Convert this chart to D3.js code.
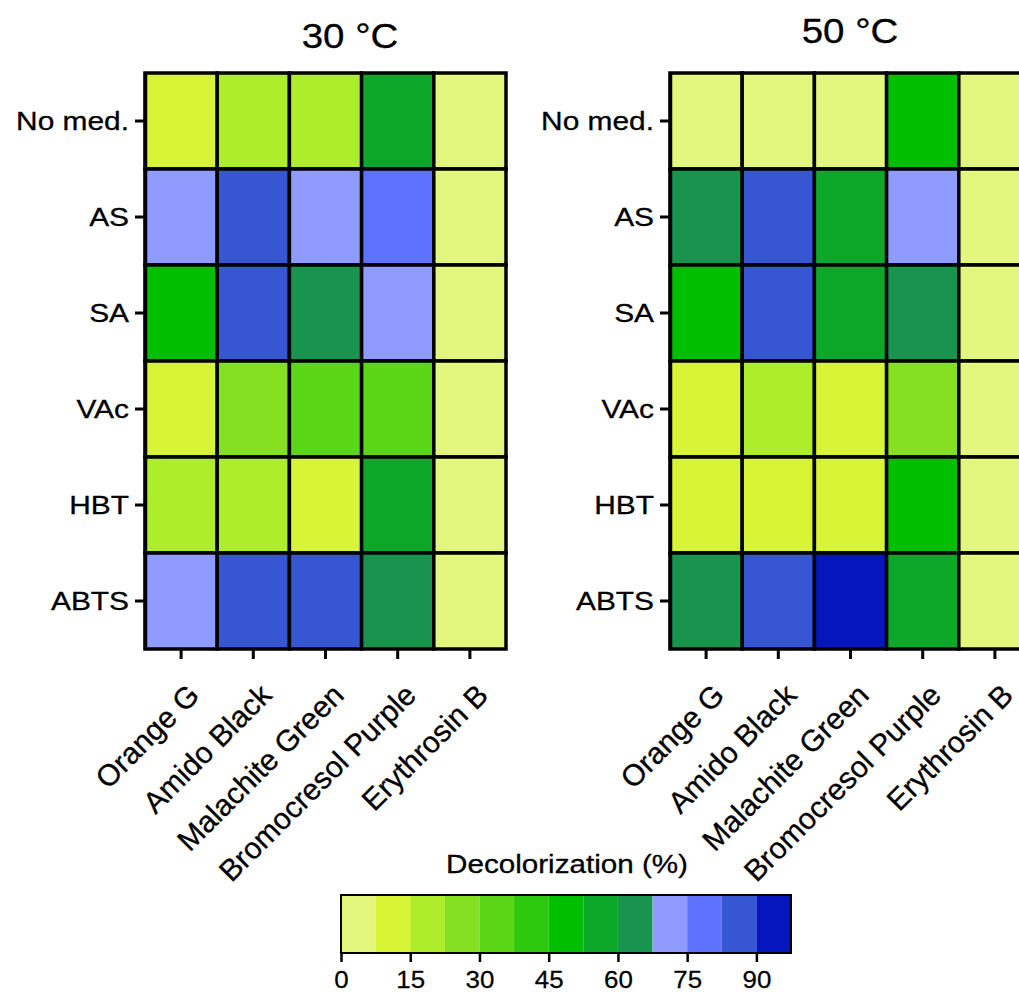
<!DOCTYPE html>
<html>
<head>
<meta charset="utf-8">
<script src="https://cdn.jsdelivr.net/npm/d3@7"></script>
<style>
  body { margin: 0; background: #fff; }
  text { font-family: "Liberation Sans", Arial, sans-serif; fill: #000; }
</style>
</head>
<body>
<div class="displayArea"></div>
<script>
const width = 1019, height = 993;

// dyes on x, mediators on y
var dyes = ["Orange G", "Amido Black", "Malachite Green", "Bromocresol Purple", "Erythrosin B"];
var mediators = ["No med.", "AS", "SA", "VAc", "HBT", "ABTS"];

// decolorization (%), one row per mediator
var decol30 = [
    [11, 19, 20, 56, 4],
    [71, 86, 72, 79, 3],
    [49, 87, 64, 72, 4],
    [10, 27, 34, 35, 3],
    [18, 19, 11, 57, 4],
    [72, 86, 87, 63, 3]
];
var decol50 = [
    [4, 3, 4, 50, 3],
    [64, 86, 57, 71, 3],
    [49, 87, 56, 63, 4],
    [11, 19, 12, 27, 3],
    [10, 12, 11, 49, 4],
    [63, 86, 94, 57, 3]
];

var panelTitles = ["30 °C", "50 °C"];

// colour bins of the legend
var binEdges = [7.5, 15, 22.5, 30, 37.5, 45, 52.5, 60, 67.5, 75, 82.5, 90];
var binColors = ["#e3f77f", "#d7f534", "#aded2a", "#84e020", "#5ad616", "#2cc80e", "#00bf00",
                 "#0ba82a", "#19944f", "#8f9bff", "#5f72ff", "#3656d4", "#0516be"];
var legendMax = 97.5;
var legendTicks = [0, 15, 30, 45, 60, 75, 90];

var color = d3.scaleThreshold().domain(binEdges).range(binColors);

var svg = d3.select(".displayArea")
    .append("svg")
    .attr("width", width)
    .attr("height", height);

var yScale = d3.scaleBand().domain(mediators).range([73, 649]);

function drawPanel(values, x0, title, titleX, titleY) {
    var xScale = d3.scaleBand().domain(dyes).range([x0, x0 + 361]);

    var cells = [];
    values.forEach(function (row, i) {
        row.forEach(function (v, j) {
            cells.push({ med: mediators[i], dye: dyes[j], v: v });
        });
    });

    svg.append("g").selectAll("rect")
        .data(cells)
        .enter()
        .append("rect")
        .attr("x", d => xScale(d.dye))
        .attr("y", d => yScale(d.med))
        .attr("width", xScale.bandwidth())
        .attr("height", yScale.bandwidth())
        .attr("fill", d => color(d.v))
        .attr("stroke", "#000")
        .attr("stroke-width", 3.5);

    // y axis
    var yAxis = svg.append("g")
        .attr("transform", `translate(${x0},0)`)
        .call(d3.axisLeft(yScale).tickSize(10).tickSizeOuter(0).tickPadding(6));
    yAxis.select(".domain").attr("stroke-width", 3.5).attr("stroke", "#000");
    yAxis.selectAll(".tick line").attr("stroke-width", 3).attr("stroke", "#000");
    yAxis.selectAll(".tick text")
        .attr("font-size", 26)
        .attr("font-family", "Liberation Sans, Arial, sans-serif")
        .attr("fill", "#000")
        .attr("stroke", "#000").attr("stroke-width", 0.3)
        .attr("x", null).attr("dy", null)
        .attr("dominant-baseline", "central")
        .attr("transform", "translate(-16,0) scale(1.15,1)");

    // x axis
    var xAxis = svg.append("g")
        .attr("transform", `translate(0,649)`)
        .call(d3.axisBottom(xScale).tickSize(10).tickSizeOuter(0));
    xAxis.select(".domain").remove();
    xAxis.selectAll(".tick line").attr("stroke-width", 3).attr("stroke", "#000");
    xAxis.selectAll(".tick text")
        .attr("font-size", 30)
        .attr("font-family", "Liberation Sans, Arial, sans-serif")
        .attr("fill", "#000")
        .attr("stroke", "#000").attr("stroke-width", 0.3)
        .attr("y", null).attr("dy", null)
        .attr("text-anchor", "end")
        .attr("transform", "translate(20,48) rotate(-45)");

    svg.append("text")
        .attr("text-anchor", "middle")
        .attr("font-size", 35)
        .attr("stroke", "#000").attr("stroke-width", 0.3)
        .attr("transform", `translate(${titleX},${titleY}) scale(1.1,1)`)
        .text(title);
}

drawPanel(decol30, 145, panelTitles[0], 350, 48);
drawPanel(decol50, 670, panelTitles[1], 850, 43);

// legend
var lx = d3.scaleLinear().domain([0, legendMax]).range([341, 791]);
var lg = svg.append("g");
var bins = [0].concat(binEdges);
lg.selectAll("rect.bin")
    .data(bins)
    .enter()
    .append("rect")
    .attr("class", "bin")
    .attr("x", d => lx(d))
    .attr("y", 895)
    .attr("width", d => lx(d + 7.5) - lx(d))
    .attr("height", 58)
    .attr("fill", d => color(d + 0.1));
lg.append("rect")
    .attr("x", lx(0)).attr("y", 895)
    .attr("width", lx(legendMax) - lx(0)).attr("height", 58)
    .attr("fill", "none").attr("stroke", "#000").attr("stroke-width", 2);

var legAxis = lg.append("g")
    .attr("transform", "translate(0,953)")
    .call(d3.axisBottom(lx).tickValues(legendTicks).tickSize(9).tickSizeOuter(0).tickPadding(4));
legAxis.select(".domain").remove();
legAxis.selectAll(".tick line").attr("stroke-width", 2.5).attr("stroke", "#000");
legAxis.selectAll(".tick text")
    .attr("font-size", 24)
    .attr("font-family", "Liberation Sans, Arial, sans-serif")
    .attr("fill", "#000")
    .attr("stroke", "#000").attr("stroke-width", 0.25)
    .attr("y", null).attr("dy", null)
    .attr("transform", "translate(0,35) scale(1.08,1)");

lg.append("text")
    .attr("text-anchor", "middle")
    .attr("font-size", 26)
    .attr("stroke", "#000").attr("stroke-width", 0.3)
    .attr("transform", "translate(567,873) scale(1.14,1)")
    .text("Decolorization (%)");
</script>
</body>
</html>
